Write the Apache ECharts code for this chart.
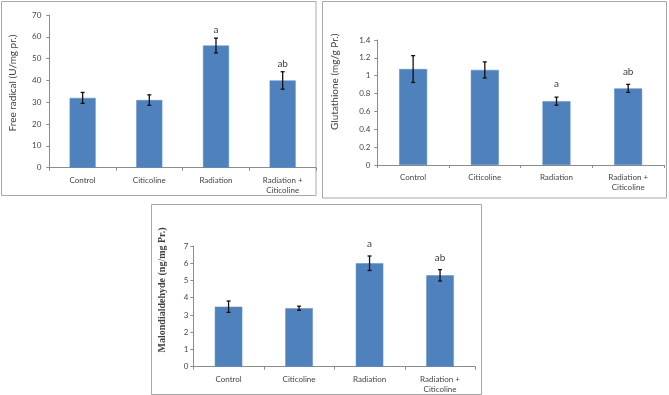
<!DOCTYPE html>
<html><head><meta charset="utf-8">
<script src="https://cdn.jsdelivr.net/npm/echarts@6/dist/echarts.min.js"></script>
<style>html,body{margin:0;padding:0;background:#fff}#c{width:669px;height:395px}</style>
</head><body><div id="c"></div>
<script>
const categories = ['Control', 'Citicoline', 'Radiation', 'Radiation +\nCiticoline'];
const freeRadical = [32, 31, 56, 40];
const freeRadicalErr = [2.5, 2.4, 3.4, 4.0];
const glutathione = [1.075, 1.065, 0.715, 0.858];
const glutathioneErr = [0.15, 0.09, 0.045, 0.045];
const malondialdehyde = [3.48, 3.39, 6.0, 5.3];
const malondialdehydeErr = [0.33, 0.12, 0.42, 0.33];
const significance = ['', '', 'a', 'ab'];
const yTitles = ['Free radical (U/mg pr.)', 'Glutathione (mg/g Pr.)', 'Malondialdehyde (ng/mg Pr.)'];
const yMax = [70, 1.4, 7];
const yInterval = [10, 0.2, 1];

const values = [freeRadical, glutathione, malondialdehyde];
const errors = [freeRadicalErr, glutathioneErr, malondialdehydeErr];

const grids = [
  {left: 49.3, top: 15, width: 266.7, height: 152.7},
  {left: 377.3, top: 40, width: 286.7, height: 125},
  {left: 193.3, top: 246, width: 282, height: 120.7}
];
const labelGap = [8, 13, 12];
const yLabelMargin = [8, 7, 5];
const titlePos = [[12.7, 83], [335, 81.7], [162.3, 290]];
const titleFont = ['10px Lato', '10px Lato', 'bold 10px "Liberation Serif"'];
const borders = [[1.5, 1.5, 314.5, 194], [322.5, 1.5, 344, 196.5], [151.5, 204.5, 330, 190]];

const axisColor = '#8c8c8c';
const textColor = '#454545';
const barColor = '#4F81BD';

const option = {
  animation: false,
  backgroundColor: '#fff',
  grid: grids.map(g => Object.assign({containLabel: false}, g)),
  xAxis: grids.map((g, i) => ({
    type: 'category', gridIndex: i, data: categories,
    axisLine: {lineStyle: {color: axisColor, width: 1}},
    axisTick: {show: true, length: 3, lineStyle: {color: axisColor}},
    axisLabel: {color: textColor, fontFamily: 'Lato', fontSize: 8, lineHeight: 10.5, margin: 7, interval: 0}
  })),
  yAxis: grids.map((g, i) => ({
    type: 'value', gridIndex: i, min: 0, max: yMax[i], interval: yInterval[i],
    axisLine: {show: true, lineStyle: {color: axisColor, width: 1}},
    axisTick: {show: true, length: 3, lineStyle: {color: axisColor}},
    splitLine: {show: false},
    axisLabel: {color: textColor, fontFamily: 'Lato', fontSize: 8, margin: yLabelMargin[i]}
  })),
  series: [],
  graphic: []
};

values.forEach((vals, k) => {
  option.series.push({
    type: 'bar', xAxisIndex: k, yAxisIndex: k, data: vals, barWidth: '39%',
    itemStyle: {color: barColor, borderColor: '#5b8ac4', borderWidth: 0.5}
  });
  const errs = errors[k];
  option.series.push({
    type: 'custom', xAxisIndex: k, yAxisIndex: k, z: 10,
    data: vals.map((v, i) => [i, v, errs[i]]),
    renderItem(params, api) {
      const i = api.value(0), v = api.value(1), e = api.value(2);
      const top = api.coord([i, v + e]);
      const bot = api.coord([i, v - e]);
      const cap = 2;
      const st = {stroke: '#111', lineWidth: 1.3};
      const children = [
        {type: 'line', shape: {x1: top[0], y1: top[1], x2: bot[0], y2: bot[1]}, style: st},
        {type: 'line', shape: {x1: top[0] - cap, y1: top[1], x2: top[0] + cap, y2: top[1]}, style: st},
        {type: 'line', shape: {x1: bot[0] - cap, y1: bot[1], x2: bot[0] + cap, y2: bot[1]}, style: st}
      ];
      const lab = significance[params.dataIndex];
      if (lab) {
        children.push({type: 'text', x: top[0], y: top[1] - labelGap[k],
          style: {text: lab, align: 'center', verticalAlign: 'middle', fill: '#404040', font: '10px Lato'}});
      }
      return {type: 'group', children};
    }
  });
  option.graphic.push({
    type: 'rect', shape: {x: borders[k][0], y: borders[k][1], width: borders[k][2], height: borders[k][3]},
    style: {fill: 'none', stroke: '#a8a8a8', lineWidth: 1}, z: 0, silent: true
  });
  option.graphic.push({
    type: 'text', x: titlePos[k][0], y: titlePos[k][1], rotation: Math.PI / 2,
    style: {text: yTitles[k], align: 'center', verticalAlign: 'middle', fill: '#404040', font: titleFont[k]}
  });
});

const chart = echarts.init(document.getElementById('c'), null, {renderer: 'canvas'});
chart.setOption(option);
</script>
</body></html>
